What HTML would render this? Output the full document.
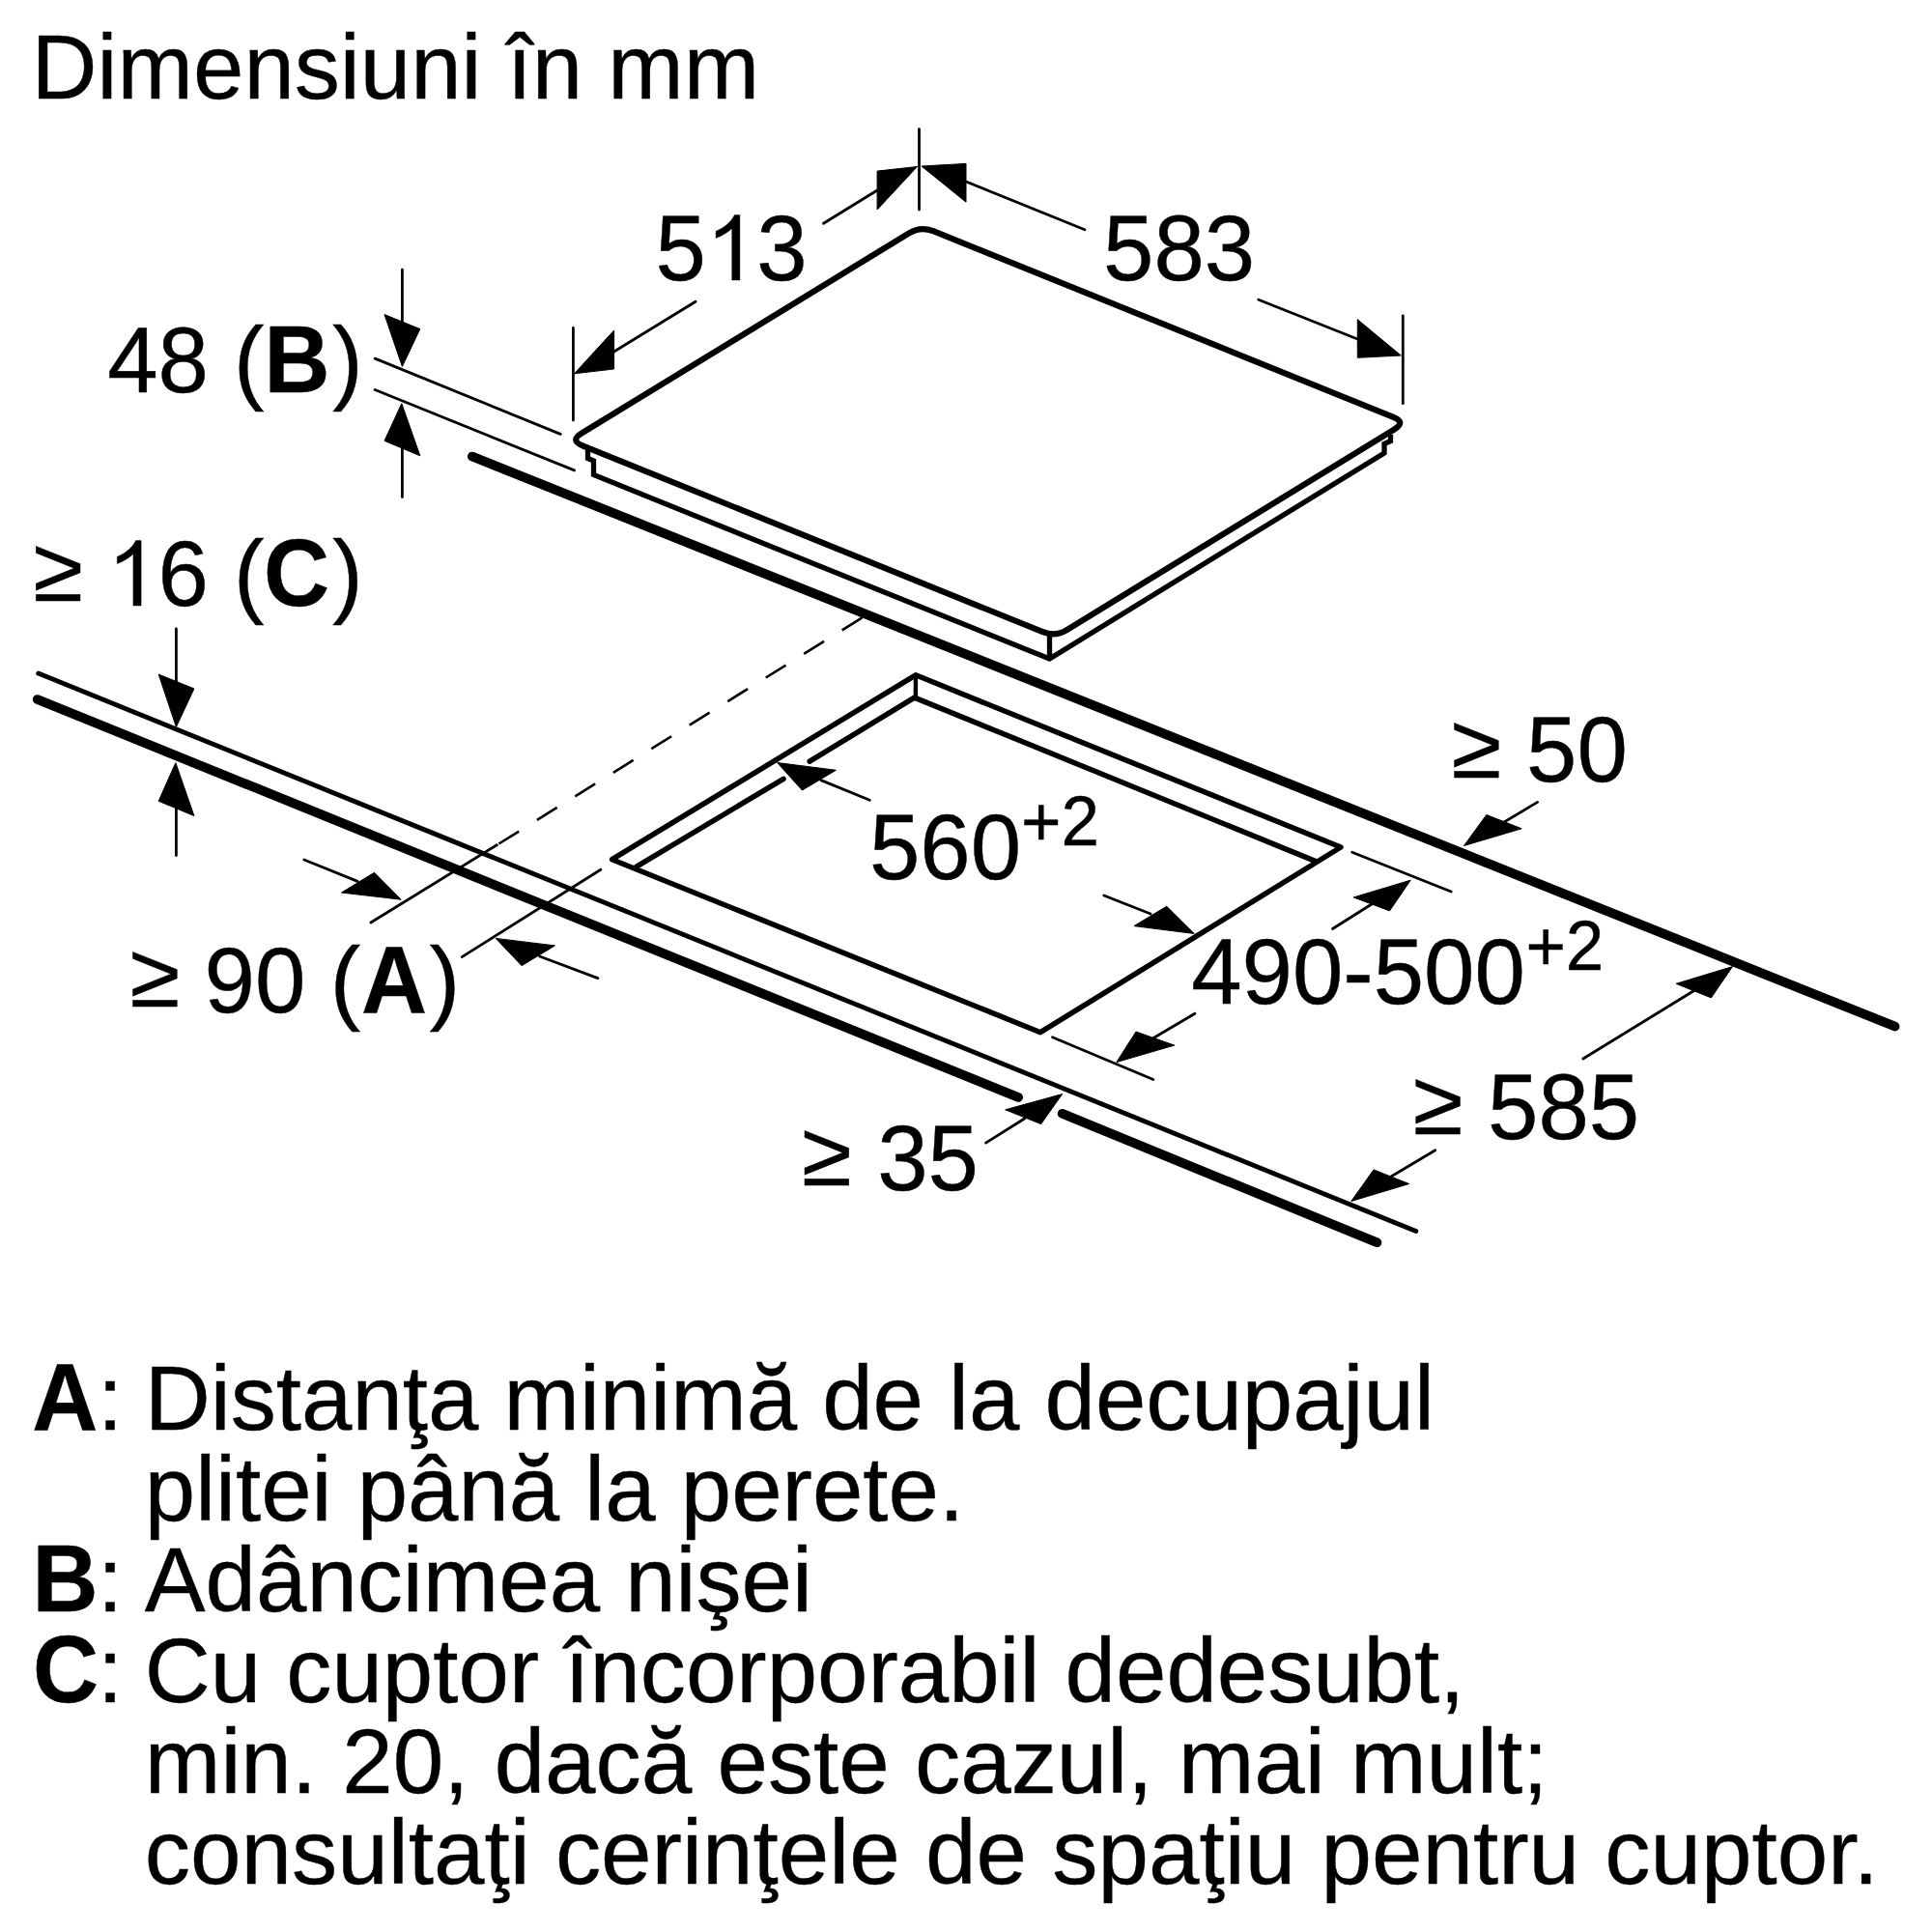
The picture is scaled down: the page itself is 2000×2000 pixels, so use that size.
<!DOCTYPE html>
<html><head><meta charset="utf-8"><style>
html,body{margin:0;padding:0;background:#fff;width:2000px;height:2000px;overflow:hidden}
svg{display:block}
text{font-family:"Liberation Sans",sans-serif;fill:#000;stroke:#000;stroke-width:0.4px}
</style></head><body>
<svg width="2000" height="2000" viewBox="0 0 2000 2000">
<rect width="2000" height="2000" fill="#fff"/>
<g stroke="#000" fill="#000">
<path d="M603.0,461.3 Q590.0,456.0 601.9,448.7 L941.1,241.3 Q953.0,234.0 966.0,239.2 L1442.5,431.8 Q1455.5,437.0 1443.6,444.3 L1104.4,652.2 Q1092.5,659.5 1079.5,654.2 Z" fill="none" stroke-width="6.2" stroke-linejoin="round"/>
<polyline points="608.5,465 608.5,474.5 614.5,477 614.5,491.5 1086.5,682 1433,469 1433,459.5 1439.5,456.5 1439.5,450" fill="none" stroke-width="5.3" stroke-linejoin="miter" stroke-linecap="butt"/>
<line x1="1086.5" y1="657" x2="1086.5" y2="682" stroke-width="5.3" stroke-linecap="butt"/>
<line x1="593.4" y1="339.4" x2="593.4" y2="435" stroke-width="2.8" stroke-linecap="round"/>
<line x1="951.5" y1="133.6" x2="951.5" y2="217" stroke-width="2.8" stroke-linecap="round"/>
<polygon points="594.5,386.8 635.6,342 635.6,382"/>
<line x1="635.6" y1="364" x2="720" y2="312.2" stroke-width="2.8" stroke-linecap="round"/>
<polygon points="949.5,172.5 908.1,177.1 908.1,217"/>
<line x1="852.5" y1="231.2" x2="908.1" y2="197" stroke-width="2.8" stroke-linecap="round"/>
<path transform="translate(730.8,290)" d="M35.1,0 L35.1,-67.4 L29.6,-67.4 C27.4,-62.8 23.5,-58.3 18,-54.7 C15.2,-52.9 12.6,-51.7 10.3,-50.8 L10.3,-43.4 C13.5,-44.6 17,-46.3 20.4,-48.5 C23.2,-50.3 25.3,-52 26.9,-53.5 L26.9,0 Z" stroke-width="0.4"/>
<polygon points="954,172 1000,169.4 1000,209.2"/>
<line x1="1000" y1="188" x2="1122.9" y2="237.7" stroke-width="2.8" stroke-linecap="round"/>
<line x1="1302.8" y1="310.2" x2="1405.3" y2="351" stroke-width="2.8" stroke-linecap="round"/>
<polygon points="1450.3,368 1405.3,330.7 1405.3,370.3"/>
<line x1="1452.3" y1="326.9" x2="1452.3" y2="417.7" stroke-width="2.8" stroke-linecap="round"/>
<line x1="416.4" y1="279.2" x2="416.4" y2="345" stroke-width="2.8" stroke-linecap="round"/>
<polygon points="398,325.6 434.8,340.6 416.4,379.4"/>
<polygon points="415.8,417.7 398,456.3 434.8,471.8"/>
<line x1="416.4" y1="460" x2="416.4" y2="514.5" stroke-width="2.8" stroke-linecap="round"/>
<line x1="388.2" y1="371.1" x2="580.2" y2="449.4" stroke-width="2.8" stroke-linecap="round"/>
<line x1="388.2" y1="403.5" x2="594.5" y2="486.9" stroke-width="2.8" stroke-linecap="round"/>
<path transform="translate(111,627)" d="M35.1,0 L35.1,-67.4 L29.6,-67.4 C27.4,-62.8 23.5,-58.3 18,-54.7 C15.2,-52.9 12.6,-51.7 10.3,-50.8 L10.3,-43.4 C13.5,-44.6 17,-46.3 20.4,-48.5 C23.2,-50.3 25.3,-52 26.9,-53.5 L26.9,0 Z" stroke-width="0.4"/>
<line x1="182.4" y1="651" x2="182.4" y2="712" stroke-width="2.8" stroke-linecap="round"/>
<polygon points="164.2,698.1 200.9,712.9 182.4,752.6"/>
<polygon points="181.8,789.6 164.2,829.3 200.9,844.5"/>
<line x1="182.4" y1="830" x2="182.4" y2="885.5" stroke-width="2.8" stroke-linecap="round"/>
<line x1="488.8" y1="472.5" x2="1961.6" y2="1062.6" stroke-width="9.7" stroke-linecap="round"/>
<line x1="39.7" y1="697.1" x2="1465.8" y2="1274.5" stroke-width="4.9" stroke-linecap="round"/>
<line x1="38.7" y1="724" x2="1054.2" y2="1136" stroke-width="9.7" stroke-linecap="round"/>
<line x1="1099.6" y1="1152.8" x2="1425.5" y2="1286.3" stroke-width="9.7" stroke-linecap="round"/>
<path d="M633.6,889.7 L947.9,698.8 L1388,877 L1077,1068.7 Z" fill="none" stroke-width="5.5" stroke-linejoin="round"/>
<polyline points="658.9,897.1 811,806.3" fill="none" stroke-width="5.5" stroke-linejoin="round" stroke-linecap="round"/>
<polyline points="838.2,788.2 946.6,722.1 1362,891.6" fill="none" stroke-width="5.5" stroke-linejoin="miter" stroke-linecap="round"/>
<line x1="947.9" y1="702" x2="947.9" y2="721" stroke-width="4.4" stroke-linecap="butt"/>
<line x1="892.5" y1="639.4" x2="514.3" y2="874.8" stroke-width="2.6" stroke-dasharray="24.5 22"/>
<line x1="383.9" y1="955" x2="514.3" y2="874.8" stroke-width="2.8" stroke-linecap="round"/>
<polygon points="804.6,789.5 830.4,818 865.4,797.3"/>
<line x1="849.8" y1="807.6" x2="900.3" y2="828.3" stroke-width="2.8" stroke-linecap="round"/>
<polygon points="1236.2,966.5 1174,958.6 1207.7,938.2"/>
<line x1="1191.1" y1="946" x2="1142.8" y2="927" stroke-width="2.8" stroke-linecap="round"/>
<polygon points="1460.2,911.2 1401.2,928.9 1438.5,942.9"/>
<line x1="1419.9" y1="936" x2="1379.5" y2="961.5" stroke-width="2.8" stroke-linecap="round"/>
<line x1="1399.7" y1="882.3" x2="1502.2" y2="923" stroke-width="2.8" stroke-linecap="round"/>
<polygon points="1155.8,1099.6 1176,1068 1215.7,1082.1"/>
<line x1="1193.8" y1="1074.7" x2="1236.9" y2="1049.2" stroke-width="2.8" stroke-linecap="round"/>
<line x1="1089.5" y1="1073.7" x2="1193.8" y2="1117.5" stroke-width="2.8" stroke-linecap="round"/>
<polygon points="1515.5,875.5 1538.8,843.5 1575.2,857.8"/>
<line x1="1555" y1="852.2" x2="1591.6" y2="830.4" stroke-width="2.8" stroke-linecap="round"/>
<polygon points="1793.5,1000.6 1735.1,1018.3 1771.4,1032.9"/>
<line x1="1753.7" y1="1025.5" x2="1638.8" y2="1096" stroke-width="2.8" stroke-linecap="round"/>
<polygon points="1398.8,1243.5 1422,1210.9 1458.7,1225.5"/>
<line x1="1440" y1="1218" x2="1485.7" y2="1190.7" stroke-width="2.8" stroke-linecap="round"/>
<polygon points="1099.6,1132.6 1040.7,1148.8 1077.7,1163.6"/>
<line x1="1060.9" y1="1157.8" x2="1020.5" y2="1183.1" stroke-width="2.8" stroke-linecap="round"/>
<polygon points="415.2,931.2 353.5,924 387.5,903.3"/>
<line x1="370.2" y1="912.4" x2="314.8" y2="890" stroke-width="2.8" stroke-linecap="round"/>
<polygon points="513.2,971.4 540.1,999.7 574.4,978.9"/>
<line x1="558.6" y1="990" x2="618.9" y2="1012.6" stroke-width="2.8" stroke-linecap="round"/>
<line x1="478.2" y1="990.6" x2="621.8" y2="900.2" stroke-width="2.8" stroke-linecap="round"/>
</g>
<g>
<text x="32.6" y="102" font-size="94.2" font-weight="normal">Dimensiuni în mm</text>
<text transform="translate(678.4,290) scale(1,1.03)" font-size="94.2">5<tspan style="fill:none;stroke:none">1</tspan>3</text>
<text transform="translate(1142.1,290) scale(1,1.03)" font-size="94.2" font-weight="normal">583</text>
<text transform="translate(111.2,406) scale(1,1.03)" font-size="94.2" font-weight="normal">48</text>
<text transform="translate(242,406) scale(1,1.03)" font-size="94.2" font-weight="normal">(</text>
<text transform="translate(273.6,406) scale(1,1.04)" font-size="94.2" font-weight="bold">B</text>
<text transform="translate(344.3,406) scale(1,1.03)" font-size="94.2" font-weight="normal">)</text>
<text x="34.2" y="621.9" font-size="94.2" font-weight="normal">≥</text>
<text transform="translate(111,627) scale(1,1.03)" font-size="94.2"><tspan style="fill:none;stroke:none">1</tspan>6</text>
<text transform="translate(242,627) scale(1,1.03)" font-size="94.2" font-weight="normal">(</text>
<text transform="translate(273.1,627) scale(1,1.04)" font-size="94.2" font-weight="bold">C</text>
<text transform="translate(344.3,627) scale(1,1.03)" font-size="94.2" font-weight="normal">)</text>
<text transform="translate(899.9,910) scale(1,1.03)" font-size="94.2" font-weight="normal">560</text>
<text transform="translate(1057,874.8) scale(1,1.02)" font-size="71" font-weight="normal">+2</text>
<text transform="translate(1233.2,1038.6) scale(1,1.03)" font-size="94.2" font-weight="normal">490-500</text>
<text transform="translate(1579.4,1003.7) scale(1,1.02)" font-size="71" font-weight="normal">+2</text>
<text x="1502.5" y="804.7" font-size="94.2" font-weight="normal">≥</text>
<text transform="translate(1580,809) scale(1,1.03)" font-size="94.2" font-weight="normal">50</text>
<text x="1462.7" y="1174.2" font-size="94.2" font-weight="normal">≥</text>
<text transform="translate(1540,1178.5) scale(1,1.03)" font-size="94.2" font-weight="normal">585</text>
<text x="830" y="1226.8" font-size="94.2" font-weight="normal">≥</text>
<text transform="translate(908.2,1232) scale(1,1.03)" font-size="94.2" font-weight="normal">35</text>
<text x="134.5" y="1042" font-size="94.2" font-weight="normal">≥</text>
<text transform="translate(211.6,1048) scale(1,1.03)" font-size="94.2" font-weight="normal">90</text>
<text transform="translate(341.8,1048) scale(1,1.03)" font-size="94.2" font-weight="normal">(</text>
<text transform="translate(374,1048) scale(1,1.04)" font-size="94.2" font-weight="bold">A</text>
<text transform="translate(444.8,1048) scale(1,1.03)" font-size="94.2" font-weight="normal">)</text>
<text transform="translate(33.2,1480.2) scale(1,1.04)" font-size="94.2" font-weight="bold">A</text>
<text x="101.1" y="1480.2" font-size="94.2" font-weight="normal">:</text>
<text x="149.8" y="1480.2" font-size="94.2" font-weight="normal">Distanţa minimă de la decupajul</text>
<text x="149.8" y="1574.2" font-size="94.2" font-weight="normal">plitei până la perete.</text>
<text transform="translate(33.6,1668.2) scale(1,1.04)" font-size="94.2" font-weight="bold">B</text>
<text x="101.1" y="1668.2" font-size="94.2" font-weight="normal">:</text>
<text x="149.8" y="1668.2" font-size="94.2" font-weight="normal">Adâncimea nişei</text>
<text transform="translate(34.1,1762.2) scale(1,1.04)" font-size="94.2" font-weight="bold">C</text>
<text x="101.1" y="1762.2" font-size="94.2" font-weight="normal">:</text>
<text x="149.8" y="1762.2" font-size="94.2" font-weight="normal">Cu cuptor încorporabil dedesubt,</text>
<text transform="translate(149.8,1856.2) scale(1.0018,1)" font-size="94.2" font-weight="normal">min. 20, dacă este cazul, mai mult;</text>
<text transform="translate(149.8,1950.2) scale(1.0025,1)" font-size="94.2" font-weight="normal">consultaţi cerinţele de spaţiu pentru cuptor.</text>
</g>
</svg></body></html>
